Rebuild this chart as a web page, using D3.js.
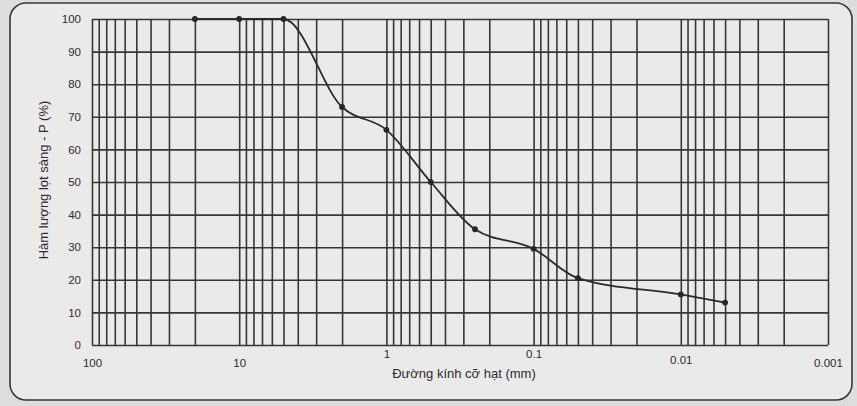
<!DOCTYPE html>
<html>
<head>
<meta charset="utf-8">
<script src="https://cdn.jsdelivr.net/npm/d3@7"></script>
<style>
  html, body { margin: 0; padding: 0; background: #dddddb; }
  svg { display: block; font-family: 'Liberation Sans', Arial, sans-serif; }
</style>
</head>
<body>
<svg id="chart" width="857" height="406"></svg>
<script>
// grain size curve
const diameters = [20, 10, 5, 2, 1, 0.5, 0.25, 0.1, 0.05, 0.01, 0.005];
const passing = [100, 100, 100, 73, 66, 50, 35.5, 29.5, 20.5, 15.5, 13];

const xTickValues = [100, 10, 1, 0.1, 0.01, 0.001];
const xTickLabels = ['100', '10', '1', '0.1', '0.01', '0.001'];
const yTickValues = [0, 10, 20, 30, 40, 50, 60, 70, 80, 90, 100];

const xTitle = 'Đường kính cỡ hạt (mm)';
const yTitle = 'Hàm lượng lọt sàng - P (%)';

const plot = { left: 92, right: 828, top: 19, bottom: 345 };
const ink = '#363636';

const svg = d3.select('#chart');

// paper card
svg.append('rect')
  .attr('x', 10).attr('y', 3)
  .attr('width', 842).attr('height', 397)
  .attr('rx', 16).attr('ry', 16)
  .attr('fill', '#eaeae8')
  .attr('stroke', ink)
  .attr('stroke-width', 1.6);

const xScale = d3.scaleLog().domain([100, 0.001]).range([plot.left, plot.right]);
const yScale = d3.scaleLinear().domain([0, 100]).range([plot.bottom, plot.top]);

// log grid: 1..9 in every decade
const gridX = [];
d3.range(-3, 2).forEach((k) => {
  d3.range(1, 10).forEach((m) => gridX.push(m * Math.pow(10, k)));
});
gridX.push(100);

const xGrid = d3.axisBottom(xScale)
  .tickValues(gridX)
  .tickSize(-(plot.bottom - plot.top))
  .tickFormat('');

const yGrid = d3.axisLeft(yScale)
  .tickValues(yTickValues)
  .tickSize(-(plot.right - plot.left))
  .tickFormat('');

const gx = svg.append('g')
  .attr('class', 'x-grid')
  .attr('transform', `translate(0,${plot.bottom})`)
  .call(xGrid);

const gy = svg.append('g')
  .attr('class', 'y-grid')
  .attr('transform', `translate(${plot.left},0)`)
  .call(yGrid);

[gx, gy].forEach((g) => {
  g.select('.domain').remove();
  g.selectAll('.tick line').attr('stroke', ink).attr('stroke-width', 1.6);
});

// y labels
const yAxis = d3.axisLeft(yScale)
  .tickValues(yTickValues)
  .tickSize(0)
  .tickPadding(11);

const yl = svg.append('g')
  .attr('transform', `translate(${plot.left},0)`)
  .call(yAxis);
yl.select('.domain').remove();
yl.selectAll('.tick text')
  .attr('fill', '#2c2c2c')
  .attr('font-size', 11.5);

// x labels ("1" and "0.1" sit a bit higher, like the print)
const lift = { '1': -9, '0.1': -9, '0.01': -3 };
const xAxis = d3.axisBottom(xScale)
  .tickValues(xTickValues)
  .tickSize(0)
  .tickPadding(14)
  .tickFormat((d, i) => xTickLabels[i]);

const xl = svg.append('g')
  .attr('transform', `translate(0,${plot.bottom})`)
  .call(xAxis);
xl.select('.domain').remove();
xl.selectAll('.tick text')
  .attr('fill', '#2c2c2c')
  .attr('font-size', 11.5)
  .attr('transform', (d, i) => `translate(0,${lift[xTickLabels[i]] || 0})`);

// titles
svg.append('text')
  .attr('x', 464)
  .attr('y', 378)
  .attr('text-anchor', 'middle')
  .attr('font-size', 13)
  .attr('fill', '#2c2c2c')
  .text(xTitle);

svg.append('text')
  .attr('transform', 'translate(48,180) rotate(-90)')
  .attr('text-anchor', 'middle')
  .attr('font-size', 13)
  .attr('fill', '#2c2c2c')
  .text(yTitle);

// curve
const pts = diameters.map((d, i) => [xScale(d), yScale(passing[i])]);

svg.append('path')
  .datum(pts)
  .attr('fill', 'none')
  .attr('stroke', '#2a2a2a')
  .attr('stroke-width', 1.8)
  .attr('d', d3.line().curve(d3.curveMonotoneX));

svg.append('g')
  .selectAll('circle')
  .data(pts)
  .join('circle')
  .attr('cx', (d) => d[0])
  .attr('cy', (d) => d[1])
  .attr('r', 2.9)
  .attr('fill', '#262626');
</script>
</body>
</html>
